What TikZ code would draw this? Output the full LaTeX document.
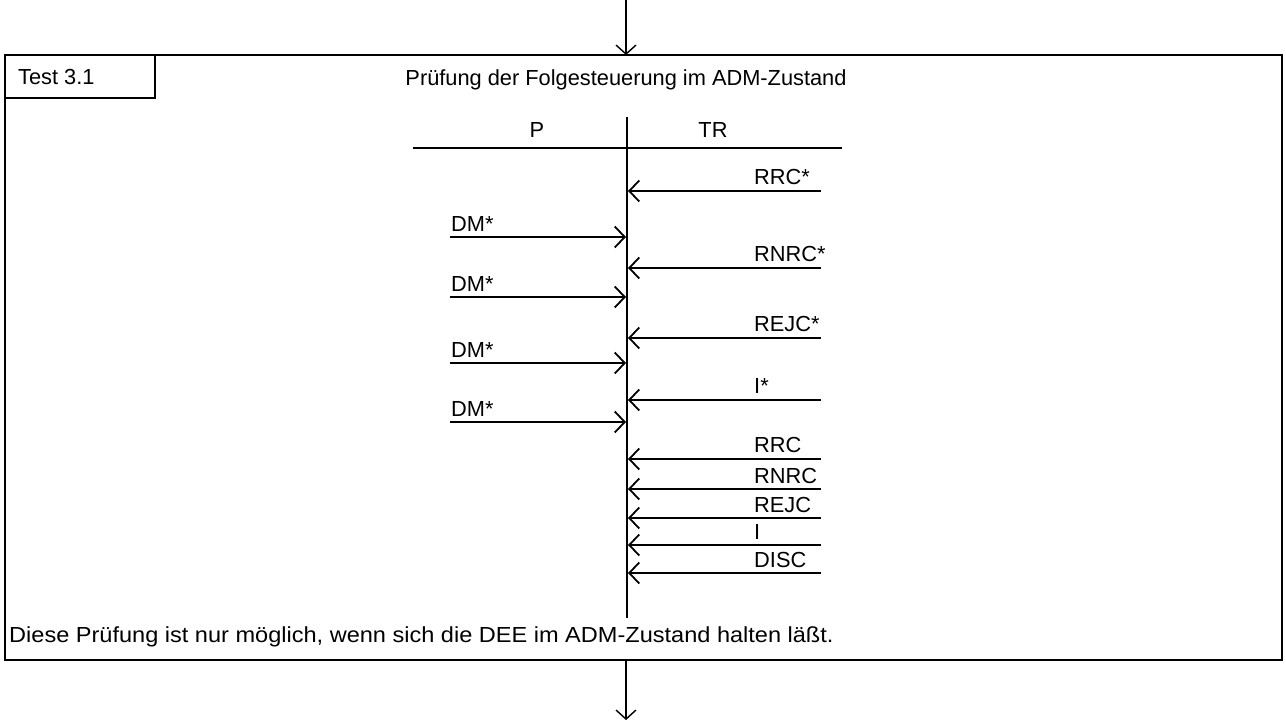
\documentclass[tikz,border=0pt]{standalone}
\usepackage{fontspec}
\setmainfont{Liberation Sans}
\usetikzlibrary{arrows.meta}
\tikzset{
  msg/.style={line width=1.8pt, -{Straight Barb[length=10pt,width=21pt,line width=1.8pt]}},
  flow/.style={line width=1.4pt, -{Straight Barb[length=9pt,width=20pt,line width=1.4pt]}},
  frame/.style={line width=1.5pt},
  lbl/.style={inner sep=0pt, font=\fontsize{21.8}{26}\selectfont},
  rlbl/.style={lbl, anchor=base west},
  llbl/.style={lbl, anchor=base west},
}
\begin{document}
\begin{tikzpicture}[x=1pt,y=-1pt]
\useasboundingbox (0,0) rectangle (1286,727);
% outer frame and title box
\draw[frame] (5,55) rectangle (1282,660);
\draw[frame] (5,55) rectangle (155,98);
\node[lbl, anchor=west] (test) at (18,77) {Test 3.1};
\node[lbl] (title) at (626,80) {Prüfung der Folgesteuerung im ADM-Zustand};
\node[lbl] (P) at (537,130) {P};
\node[lbl] (TR) at (713,130) {TR};
\coordinate (hl) at (413,148);
\coordinate (hr) at (842,148);
\draw[line width=1.8pt] (hl) -- (hr);
% lifeline
\coordinate (lt) at (627,117);
\coordinate (lb) at (627,618);
\draw[line width=1.8pt] (lt) -- (lb);
% flow arrows
\coordinate (inS) at (626,0);
\coordinate (inE) at (626,55);
\draw[flow] (inS) -- (inE);
\coordinate (outS) at (626,660);
\coordinate (outE) at (626,720);
\draw[flow] (outS) -- (outE);
% messages from TR
\foreach \n/\y/\t in {a/191/RRC*, b/268/RNRC*, c/338/REJC*, d/400/I*, e/459/RRC, f/489/RNRC, g/518/REJC, h/545/I, i/573/DISC}{
  \coordinate (r\n s) at (821,\y);
  \coordinate (r\n e) at (628,\y);
  \draw[msg] (r\n s) -- (r\n e);
  \node[rlbl] (rl\n) at (754,\y-6) {\t};
}
% messages from P
\foreach \n/\y in {a/237, b/297, c/363, d/422}{
  \coordinate (l\n s) at (450,\y);
  \coordinate (l\n e) at (626,\y);
  \draw[msg] (l\n s) -- (l\n e);
  \node[llbl] (ll\n) at (451,\y-5) {DM*};
}
\node[lbl, anchor=west] (note) at (9,637) {\scalebox{1.08}[1]{Diese Prüfung ist nur möglich, wenn sich die DEE im ADM-Zustand halten läßt.}};
\end{tikzpicture}
\end{document}
